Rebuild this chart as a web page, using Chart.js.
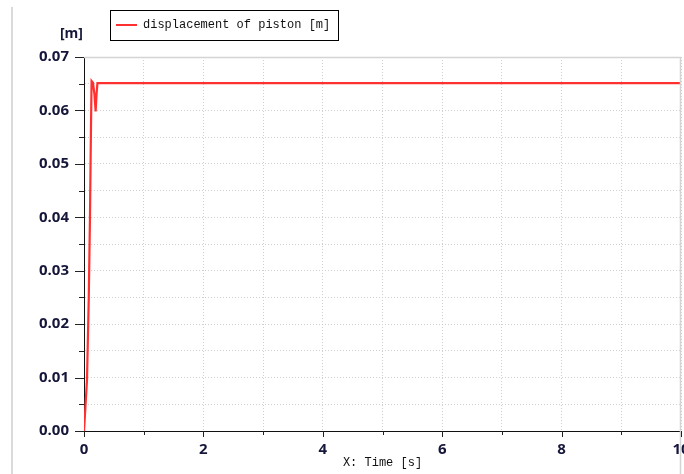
<!DOCTYPE html>
<html>
<head>
<meta charset="utf-8">
<script src="https://cdn.jsdelivr.net/npm/chart.js@4"></script>
<style>
html,body{margin:0;padding:0;background:#fff;}
#wrap{width:684px;height:474px;position:relative;}
</style>
</head>
<body>
<div id="wrap"><canvas id="c" width="684" height="474"></canvas></div>
<script>
// Data
const timeS = [0, 0.05, 0.08, 0.1, 0.115, 0.127, 0.15, 0.175, 0.195, 0.21, 0.225, 0.3, 10];
const displacementM = [0, 0.0095, 0.025, 0.04, 0.055, 0.0655, 0.0652, 0.063, 0.0598, 0.063, 0.0651, 0.0651, 0.0651];
const seriesLabel = 'displacement of piston [m]';
const xTitle = 'X: Time [s]';
const yTitle = '[m]';

const points = timeS.map((t, i) => ({x: t, y: displacementM[i]}));
const tickFont = {family: 'Open Sans', size: 15, weight: 'bold'};
const tickColor = '#16163a';

const decor = {
  id: 'decor',
  beforeDraw(chart) {
    const ctx = chart.ctx;
    ctx.save();
    ctx.fillStyle = '#fff';
    ctx.fillRect(0, 0, chart.width, chart.height);
    ctx.strokeStyle = '#dadada';
    ctx.lineWidth = 2;
    ctx.beginPath(); ctx.moveTo(12, 7); ctx.lineTo(12, 474); ctx.stroke();
    ctx.restore();
  },
  afterDraw(chart) {
    const ctx = chart.ctx;
    const a = chart.chartArea;
    const xs = chart.scales.x, ys = chart.scales.y;
    ctx.save();
    ctx.strokeStyle = '#d4d4d4';
    ctx.lineWidth = 1.5;
    ctx.beginPath();
    ctx.moveTo(a.left, a.top + 0.5); ctx.lineTo(a.right, a.top + 0.5);
    ctx.moveTo(a.right - 0.5, a.top); ctx.lineTo(a.right - 0.5, 474);
    ctx.stroke();
    ctx.strokeStyle = '#222';
    ctx.lineWidth = 1;
    ctx.beginPath();
    ys.ticks.forEach(t => {
      const py = Math.round(ys.getPixelForValue(t.value)) + 0.5;
      const major = Math.abs(Math.round(t.value * 1000) % 10) === 0;
      ctx.moveTo(a.left - (major ? 9 : 5), py); ctx.lineTo(a.left, py);
    });
    xs.ticks.forEach(t => {
      const px = Math.round(xs.getPixelForValue(t.value)) + 0.5;
      const major = Math.round(t.value) % 2 === 0;
      ctx.moveTo(px, a.bottom); ctx.lineTo(px, a.bottom + (major ? 6 : 4));
    });
    ctx.stroke();
    ctx.fillStyle = tickColor;
    ctx.font = 'bold 14px "Open Sans"';
    ctx.textAlign = 'right';
    ctx.textBaseline = 'middle';
    ctx.fillText(yTitle, 83, 34);
    ctx.fillStyle = '#111';
    ctx.font = '12px "Liberation Mono"';
    ctx.textAlign = 'center';
    ctx.fillText(xTitle, (a.left + a.right) / 2, 463);
    ctx.strokeStyle = '#000';
    ctx.lineWidth = 1;
    ctx.strokeRect(110.5, 10.5, 228, 30);
    ctx.strokeStyle = chart.data.datasets[0].borderColor;
    ctx.lineWidth = 2;
    ctx.beginPath(); ctx.moveTo(116, 25); ctx.lineTo(137, 25); ctx.stroke();
    ctx.fillStyle = '#111';
    ctx.textAlign = 'left';
    ctx.fillText(seriesLabel, 143, 25);
    ctx.restore();
  }
};

new Chart(document.getElementById('c'), {
  type: 'scatter',
  data: {
    datasets: [{
      label: seriesLabel,
      data: points,
      showLine: true,
      borderColor: '#ff3030',
      backgroundColor: '#ff3030',
      borderWidth: 2.2,
      pointRadius: 0,
      tension: 0
    }]
  },
  options: {
    responsive: false,
    animation: false,
    devicePixelRatio: 1,
    layout: {padding: {left: 0, top: 57, right: 3, bottom: 0}},
    plugins: {legend: {display: false}, tooltip: {enabled: false}},
    scales: {
      x: {
        type: 'linear', min: 0, max: 10,
        ticks: {
          stepSize: 1, autoSkip: false, maxRotation: 0,
          font: tickFont, color: tickColor, padding: 10,
          callback: v => (Math.round(v) % 2 === 0 ? String(v) : '')
        },
        grid: {color: '#cfcfcf', lineWidth: 1, drawTicks: false},
        border: {display: true, color: '#111', width: 1, dash: [1, 2]},
        afterFit: s => { s.height = 43; s.paddingLeft = 0; s.paddingRight = 0; }
      },
      y: {
        type: 'linear', min: 0, max: 0.07,
        ticks: {
          stepSize: 0.005, autoSkip: false,
          font: tickFont, color: tickColor, padding: 15,
          callback: v => (Math.abs(Math.round(v * 1000) % 10) === 0 ? v.toFixed(2) : '')
        },
        grid: {color: '#cfcfcf', lineWidth: 1, drawTicks: false},
        border: {display: true, color: '#111', width: 1, dash: [1, 2]},
        afterFit: s => { s.width = 84; s.paddingTop = 0; s.paddingBottom = 0; }
      }
    }
  },
  plugins: [decor]
});
</script>
</body>
</html>
